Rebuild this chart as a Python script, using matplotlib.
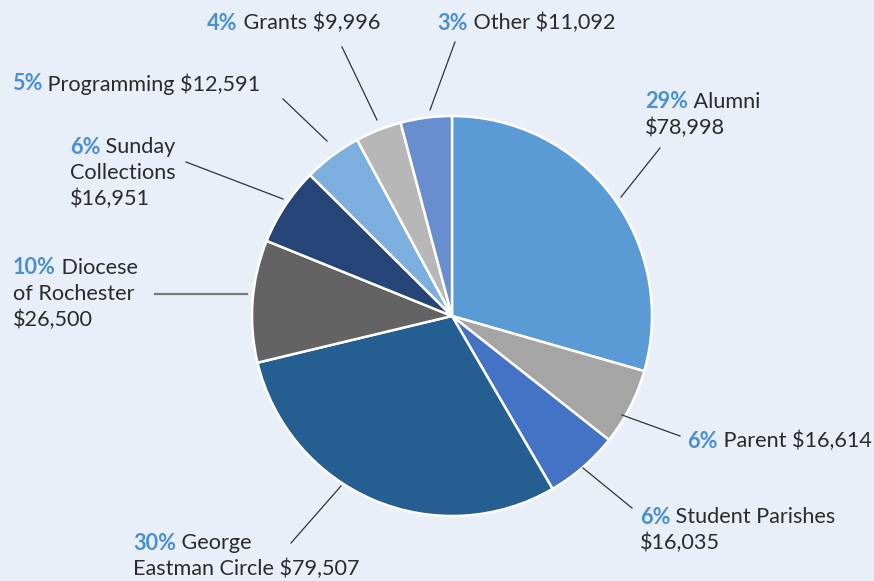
import matplotlib
matplotlib.use('Agg')
import matplotlib.pyplot as plt

# data, clockwise from 12 o'clock
names = ["Alumni", "Parent", "Student Parishes", "George Eastman Circle",
         "Diocese of Rochester", "Sunday Collections", "Programming",
         "Grants", "Other"]
values = [78998, 16614, 16035, 79507, 26500, 16951, 12591, 9996, 11092]
percents = [29, 6, 6, 30, 10, 6, 5, 4, 3]
colors = ["#5b9bd5", "#a5a5a5", "#4472c4", "#255e91", "#636363",
          "#264478", "#7cafdd", "#b7b7b7", "#698ed0"]

# where the label text wraps (word index of each break)
breaks = [[1], [], [2], [1], [1, 3], [1, 2], [], [], []]
# label anchor (left x, centre y of first line) in pixels
label_pos = [(645, 102), (687, 441), (640, 517), (133, 543), (13, 268),
             (70, 147), (12, 84), (207, 23), (437, 23)]
# leader lines in pixels
leaders = [((621, 197), (660, 148)), ((622, 415), (680, 436)),
           ((583, 468), (632, 508)), ((341, 486), (291, 543)),
           ((247, 294), (155, 294)), ((283, 199), (186, 162)),
           ((327, 141), (283, 99)), ((377, 120), (342, 47)),
           ((430, 110), (455, 42))]

W, H = 874, 581
BG = "#e9eff8"
PCT = "#4a8fd1"
TXT = "#2b2b2b"
FS = 15.6
LINE = 26

fig = plt.figure(figsize=(W / 100, H / 100), dpi=100, facecolor=BG)
ax = fig.add_axes([0, 0, 1, 1])
ax.set_facecolor(BG)

# y axis runs downward so everything is in pixel units;
# start at -90 (visually up) and go counterclock in data = clockwise on screen
ax.pie(values, colors=colors, startangle=-90, counterclock=True,
       center=(452, 316), radius=200,
       wedgeprops=dict(edgecolor="white", linewidth=1.8))

ax.set_xlim(0, W)
ax.set_ylim(H, 0)
ax.set_aspect('auto')
ax.axis('off')

for i in range(len(names)):
    (x0, y0), (x1, y1) = leaders[i]
    if i == 4:
        ax.plot([x0, x1], [y0, y1], color="#7a7a7a", lw=1.6)
    else:
        ax.plot([x0, x1], [y0, y1], color="#333333", lw=0.9)

    words = ("%s $%s" % (names[i], format(values[i], ","))).split()
    cuts = [0] + breaks[i] + [len(words)]
    lines = [" ".join(words[a:b]) for a, b in zip(cuts[:-1], cuts[1:])]

    lx, ly = label_pos[i]
    t1 = ax.text(lx, ly, "%d%%" % percents[i], color=PCT, fontsize=FS,
                 family="Lato", weight="bold", va="center", ha="left")
    ax.annotate(" " + lines[0], xy=(1, ly), xycoords=(t1, "data"),
                color=TXT, fontsize=FS, family="Lato", va="center", ha="left")
    for k, line in enumerate(lines[1:]):
        ax.text(lx, ly + LINE * (k + 1), line, color=TXT, fontsize=FS,
                family="Lato", va="center", ha="left")

fig.savefig("out.png", dpi=100, facecolor=BG)
